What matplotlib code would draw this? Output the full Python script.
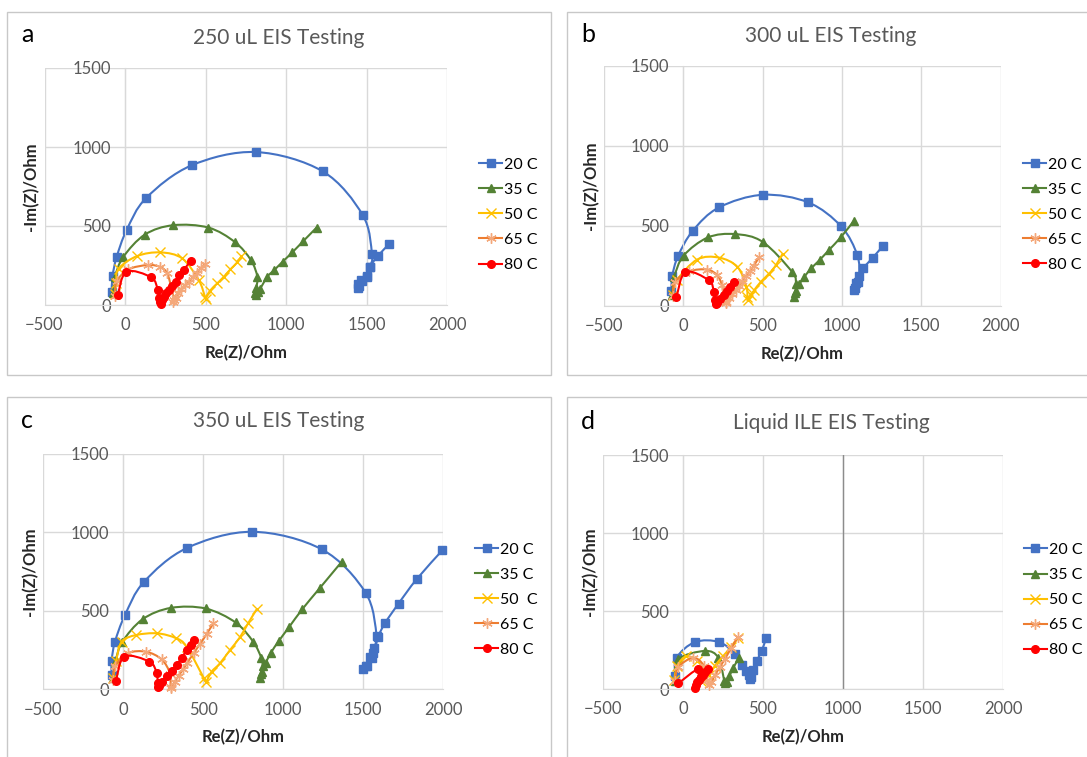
import numpy as np
import matplotlib
matplotlib.use('Agg')
import matplotlib.pyplot as plt
from matplotlib.path import Path
from matplotlib.patches import PathPatch, Rectangle
from matplotlib.lines import Line2D

plt.rcParams['font.family'] = ['Lato', 'DejaVu Sans']

# ---- data (Re(Z), -Im(Z)) ----
a20x = [-83, -77, -52, 10, 132, 414, 813, 1228, 1476, 1534, 1521, 1500, 1470, 1452, 1445, 1450, 1465, 1500, 1520, 1569, 1642]
a20y = [84, 185, 303, 474, 678, 884, 968, 846, 570, 322, 242, 179, 150, 120, 110, 130, 160, 185, 240, 309, 387]
a35x = [-72, -62, -10, 124, 300, 518, 683, 782, 822, 815, 808, 812, 825, 838, 884, 927, 979, 1039, 1107, 1190]
a35y = [74, 179, 305, 446, 505, 490, 398, 284, 179, 110, 74, 63, 85, 100, 179, 221, 274, 333, 404, 490]
a50x = [-62, -55, -40, 76, 220, 355, 458, 496, 500, 527, 573, 614, 655, 697, 722]
a50y = [70, 140, 230, 310, 333, 295, 158, 53, 40, 89, 137, 179, 226, 270, 308]
a65x = [-65, -50, 20, 142, 220, 262, 290, 303, 300, 315, 330, 350, 372, 396, 420, 445, 470, 494]
a65y = [60, 150, 225, 253, 240, 200, 100, 32, 20, 45, 75, 100, 125, 147, 175, 205, 232, 258]
a80x = [-45, 9, 163, 204, 210, 215, 222, 232, 241, 256, 272, 293, 314, 334, 365, 407]
a80y = [63, 211, 175, 95, 42, 20, 8, 30, 53, 75, 95, 120, 147, 190, 222, 280]

b20x = [-74, -68, -32, 61, 226, 502, 789, 996, 1097, 1108, 1090, 1076, 1080, 1100, 1135, 1194, 1260]
b20y = [92, 187, 310, 469, 615, 694, 646, 496, 317, 185, 140, 98, 110, 150, 233, 300, 375]
b35x = [-70, -55, 4, 156, 327, 500, 686, 711, 705, 700, 712, 732, 764, 806, 859, 918, 992, 1074]
b35y = [67, 181, 314, 427, 448, 400, 212, 135, 80, 56, 90, 135, 181, 233, 285, 348, 427, 529]
b50x = [-65, -40, 89, 226, 342, 399, 405, 411, 430, 447, 489, 542, 584, 627]
b50y = [70, 159, 289, 301, 243, 117, 54, 38, 70, 96, 149, 201, 253, 326]
b65x = [-65, -50, 40, 152, 215, 245, 257, 268, 270, 290, 310, 330, 350, 372, 395, 420, 445, 479]
b65y = [60, 150, 215, 226, 190, 128, 54, 23, 15, 50, 75, 100, 125, 155, 185, 215, 250, 305]
b80x = [-42, 15, 162, 194, 200, 205, 215, 235, 255, 275, 295, 321]
b80y = [54, 211, 159, 86, 33, 13, 20, 45, 70, 95, 120, 148]

c20x = [-73, -73, -52, 10, 129, 398, 806, 1241, 1514, 1583, 1565, 1552, 1520, 1500, 1515, 1542, 1560, 1590, 1637, 1720, 1833, 1994]
c20y = [91, 182, 302, 471, 683, 899, 1002, 890, 615, 340, 260, 197, 150, 127, 150, 205, 233, 330, 423, 545, 700, 884]
c35x = [-62, -46, -6, 121, 298, 514, 702, 812, 862, 870, 858, 854, 868, 889, 923, 973, 1037, 1119, 1229, 1364]
c35y = [70, 186, 302, 446, 518, 514, 425, 302, 201, 150, 95, 70, 110, 165, 233, 309, 397, 510, 645, 810]
c50x = [-65, -45, -10, 80, 212, 330, 396, 504, 517, 552, 604, 667, 729, 780, 833]
c50y = [70, 180, 303, 345, 356, 325, 271, 70, 49, 112, 165, 250, 331, 420, 508]
c65x = [-65, -50, 30, 142, 240, 292, 295, 300, 320, 345, 375, 400, 440, 480, 520, 562]
c65y = [60, 150, 230, 239, 190, 100, 17, 10, 45, 85, 130, 170, 230, 290, 350, 419]
c80x = [-46, 6, 163, 208, 215, 219, 225, 240, 271, 302, 333, 365, 396, 420, 444]
c80y = [53, 208, 176, 106, 38, 13, 20, 49, 85, 119, 155, 200, 250, 280, 314]

d20x = [-50, -40, 75, 227, 325, 371, 394, 411, 418, 425, 439, 460, 492, 519]
d20y = [83, 201, 301, 301, 222, 152, 115, 90, 65, 80, 125, 180, 244, 325]
d35x = [-49, -29, 137, 221, 258, 262, 272, 290, 315, 350]
d35y = [50, 190, 244, 201, 51, 36, 45, 83, 137, 201]
d50x = [-55, -35, 20, 90, 140, 120, 160, 200, 250, 300, 343]
d50y = [60, 150, 210, 180, 110, 48, 90, 150, 210, 270, 330]
d65x = [-50, -30, 64, 130, 150, 160, 175, 200, 230, 260, 300, 342]
d65y = [50, 140, 200, 150, 60, 25, 45, 90, 140, 190, 260, 333]
d80x = [-29, 96, 75, 80, 90, 100, 110, 125, 140, 158]
d80y = [36, 126, 9, 25, 45, 60, 75, 90, 110, 130]

titles = ['250 uL EIS Testing', '300 uL EIS Testing', '350 uL EIS Testing', 'Liquid ILE EIS Testing']
letters = ['a', 'b', 'c', 'd']
labels = ['20 C', '35 C', '50 C', '65 C', '80 C']
labels_c = ['20 C', '35 C', '50  C', '65 C', '80 C']
xticks = [-500, 0, 500, 1000, 1500, 2000]
yticks = [0, 500, 1000, 1500]

line_colors = ['#4472C4', '#548235', '#FFC000', '#ED7D31', '#FF0000']
mark_colors = ['#4472C4', '#548235', '#FFC000', '#F4A87A', '#FF0000']
markers = ['s', '^', 'x', (6, 2, 0), 'o']
msizes = [5.5, 6, 6.5, 7.5, 5.5]

panels = [
    [(a20x, a20y), (a35x, a35y), (a50x, a50y), (a65x, a65y), (a80x, a80y)],
    [(b20x, b20y), (b35x, b35y), (b50x, b50y), (b65x, b65y), (b80x, b80y)],
    [(c20x, c20y), (c35x, c35y), (c50x, c50y), (c65x, c65y), (c80x, c80y)],
    [(d20x, d20y), (d35x, d35y), (d50x, d50y), (d65x, d65y), (d80x, d80y)],
]

W, H = 1087, 757
# axes rectangles in pixels: left, right, top, bottom
ax_px = [(44.5, 447, 68, 305), (603.7, 1000.7, 66, 305.7),
         (43.3, 443.3, 453.5, 689.3), (603, 1003, 455, 689)]
box_px = [(7, 551, 12, 375), (567, 1095, 12, 375),
          (7, 551, 397, 765), (567, 1095, 397, 765)]
letter_px = [(27, 34), (588, 35), (27, 420), (588, 422)]
title_px = [(279, 38), (831, 36), (279, 421), (831, 423)]
legend_x = [1.08, 1.056, 1.08, 1.052]


def smooth_path(x, y):
    # Excel-like smoothed line: cubic bezier through the points
    pts = np.column_stack([x, y]).astype(float)
    n = len(pts)
    verts = [pts[0]]
    codes = [Path.MOVETO]
    for i in range(n - 1):
        p0 = pts[i - 1] if i > 0 else pts[i]
        p1 = pts[i]
        p2 = pts[i + 1]
        p3 = pts[i + 2] if i + 2 < n else pts[i + 1]
        verts += [p1 + (p2 - p0) / 6, p2 - (p3 - p1) / 6, p2]
        codes += [Path.CURVE4] * 3
    return Path(verts, codes)


fig = plt.figure(figsize=(W / 100, H / 100), dpi=100)

for k in range(4):
    x0, x1, y0, y1 = box_px[k]
    fig.add_artist(Rectangle((x0 / W, 1 - y1 / H), (x1 - x0) / W, (y1 - y0) / H,
                             transform=fig.transFigure, fill=False,
                             edgecolor='#c8c8c8', lw=1))
    l, r, t, b = ax_px[k]
    ax = fig.add_axes([l / W, 1 - b / H, (r - l) / W, (b - t) / H])
    ax.set_xlim(-500, 2000)
    ax.set_ylim(0, 1500)
    ax.set_xticks(xticks)
    ax.set_yticks(yticks)
    ax.grid(True, color='#d9d9d9', lw=1)
    ax.set_axisbelow(True)
    for s in ['top', 'right']:
        ax.spines[s].set_visible(False)
    ax.spines['left'].set_position(('data', 0))
    ax.spines['left'].set_color('#d9d9d9')
    ax.spines['bottom'].set_color('#d9d9d9')
    ax.tick_params(length=0, labelsize=12, labelcolor='#595959')
    ax.tick_params(axis='x', pad=9)
    ax.tick_params(axis='y', pad=10)
    if k == 3:
        ax.axvline(1000, color='#8c8c8c', lw=1, zorder=0.6)

    for j, (sx, sy) in enumerate(panels[k]):
        ax.add_patch(PathPatch(smooth_path(sx, sy), fill=False,
                               edgecolor=line_colors[j], lw=1.5, zorder=2 + j))
        ax.plot(sx, sy, ls='none', marker=markers[j], ms=msizes[j],
                color=mark_colors[j], mec=mark_colors[j], mew=1,
                zorder=2.5 + j, clip_on=False)

    ax.set_xlabel('Re(Z)/Ohm', fontsize=12, fontweight='bold', color='#262626')
    ax.set_ylabel('-Im(Z)/Ohm', fontsize=12, fontweight='bold', color='#262626')
    ax.xaxis.set_label_coords(0.5, -0.17)
    ax.yaxis.set_label_coords(-0.012, 0.5)

    handles = [Line2D([], [], color=line_colors[j], lw=1.5, marker=markers[j],
                      ms=msizes[j], mfc=mark_colors[j], mec=mark_colors[j])
               for j in range(5)]
    ax.legend(handles, labels_c if k == 2 else labels, loc='center left',
              bbox_to_anchor=(legend_x[k], 0.38), frameon=False, fontsize=11.5,
              handlelength=1.45, handletextpad=0.12, labelspacing=0.68,
              borderpad=0, borderaxespad=0)

    lx, ly = letter_px[k]
    fig.text(lx / W, 1 - ly / H, letters[k], fontsize=18, color='black',
             ha='center', va='center')
    tx, ty = title_px[k]
    fig.text(tx / W, 1 - ty / H, titles[k], fontsize=15, color='#595959',
             ha='center', va='center')

fig.savefig('out.png', dpi=100)
